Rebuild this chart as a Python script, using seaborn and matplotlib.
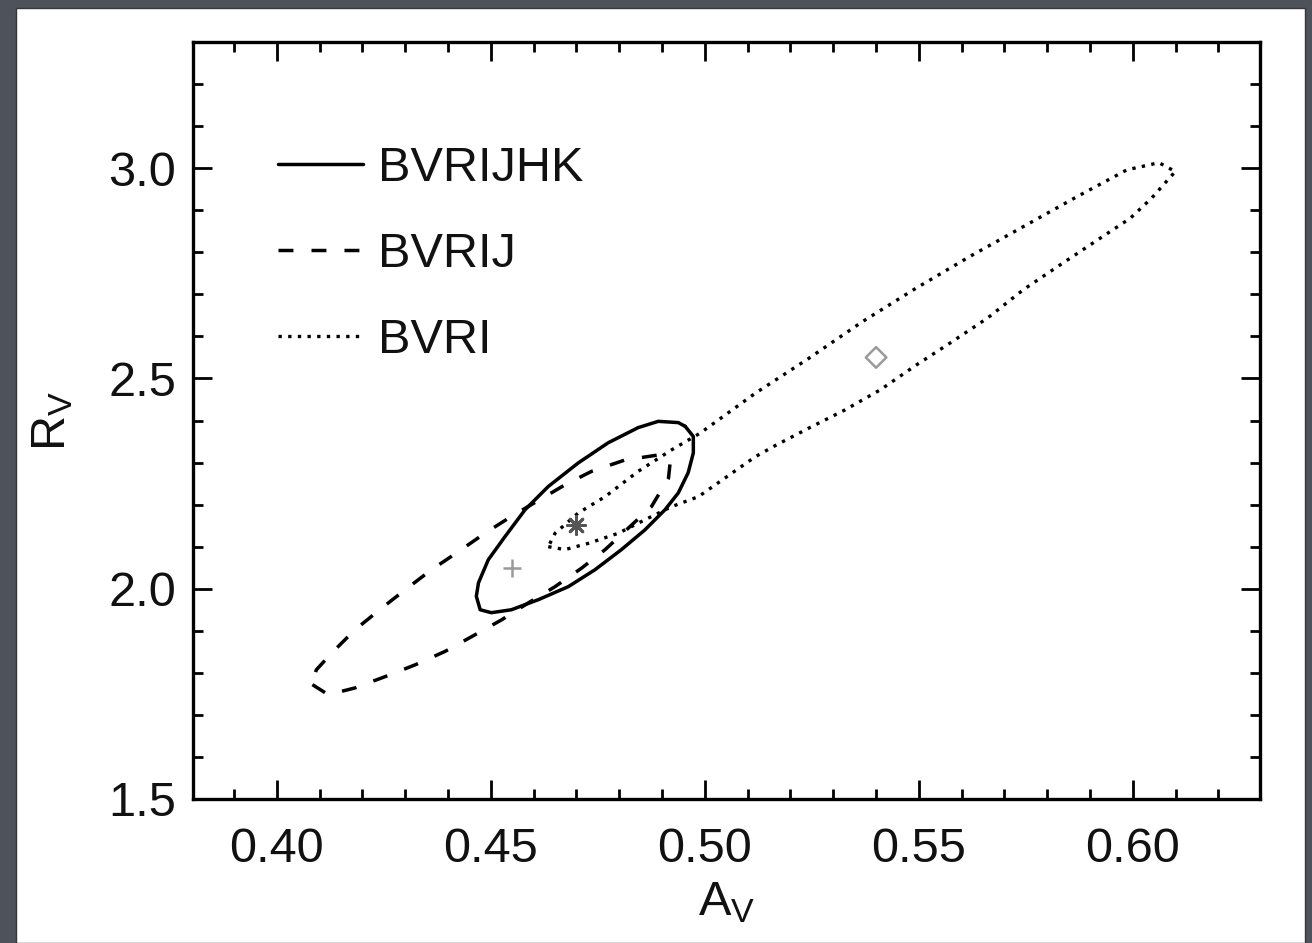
import numpy as np
import pandas as pd
import matplotlib
matplotlib.use("Agg")
import matplotlib.pyplot as plt
import seaborn as sns
from matplotlib.ticker import MultipleLocator, FormatStrFormatter
from matplotlib.patches import Rectangle

# ---- data (confidence contours in A_V / R_V plane) ----
bvrijhk_av = [0.4954, 0.4973, 0.4973, 0.4961, 0.4938, 0.4907, 0.4860, 0.4805, 0.4743,
              0.4681, 0.4611, 0.4548, 0.4501, 0.4475, 0.4466, 0.4471, 0.4494, 0.4533,
              0.4580, 0.4634, 0.4704, 0.4774, 0.4844, 0.4891, 0.4938]
bvrijhk_rv = [2.386, 2.362, 2.323, 2.276, 2.228, 2.188, 2.140, 2.093, 2.045,
              2.005, 1.974, 1.950, 1.943, 1.950, 1.982, 2.014, 2.069, 2.124,
              2.188, 2.243, 2.299, 2.347, 2.383, 2.398, 2.395]

bvrij_av = [0.4083, 0.4120, 0.4182, 0.4253, 0.4323, 0.4393, 0.4455, 0.4525, 0.4587,
            0.4650, 0.4712, 0.4767, 0.4821, 0.4875, 0.4915, 0.4919, 0.4891, 0.4813,
            0.4735, 0.4673, 0.4548, 0.4486, 0.4424, 0.4361, 0.4299, 0.4245, 0.4182,
            0.4128, 0.4092]
bvrij_rv = [1.772, 1.748, 1.764, 1.791, 1.819, 1.851, 1.886, 1.926, 1.966,
            2.005, 2.049, 2.093, 2.144, 2.195, 2.263, 2.302, 2.318, 2.306,
            2.279, 2.247, 2.172, 2.132, 2.088, 2.045, 1.997, 1.954, 1.902,
            1.847, 1.807]

bvri_av = [0.4634, 0.4673, 0.4728, 0.4798, 0.4860, 0.4922, 0.4985, 0.5118, 0.5160,
           0.5243, 0.5327, 0.5410, 0.5494, 0.5577, 0.5661, 0.5744, 0.5827, 0.5911,
           0.5994, 0.6044, 0.6078, 0.6099, 0.6061, 0.5986, 0.5869, 0.5744, 0.5619,
           0.5494, 0.5368, 0.5243, 0.5118, 0.4989, 0.4922, 0.4844, 0.4767, 0.4704,
           0.4650]
bvri_rv = [2.100, 2.093, 2.108, 2.132, 2.164, 2.195, 2.219, 2.314, 2.338,
           2.382, 2.425, 2.473, 2.532, 2.587, 2.644, 2.711, 2.768, 2.825,
           2.881, 2.929, 2.968, 2.992, 3.013, 2.996, 2.932, 2.861, 2.790,
           2.715, 2.635, 2.548, 2.465, 2.370, 2.330, 2.279, 2.219, 2.180,
           2.132]

# best-fit points
diamond_av, diamond_rv = [0.540], [2.55]
star_av, star_rv = [0.470], [2.152]
plus_av, plus_rv = [0.455], [2.049]

series_labels = ["BVRIJHK", "BVRIJ", "BVRI"]
x_ticks = [0.40, 0.45, 0.50, 0.55, 0.60]
y_ticks = [1.5, 2.0, 2.5, 3.0]

# ---- style ----
sns.set_style("ticks")
plt.rcParams["font.family"] = ["Liberation Sans", "DejaVu Sans"]
plt.rcParams["mathtext.fontset"] = "custom"
plt.rcParams["mathtext.rm"] = "Liberation Sans"
plt.rcParams["mathtext.it"] = "Liberation Sans:italic"

FS = 35
W, H = 1312, 943
fig = plt.figure(figsize=(W / 100, H / 100), dpi=100, facecolor="#4e525b")
fig.patches.append(Rectangle((16 / W, 0), (1305 - 16) / W, (H - 8) / H,
                             transform=fig.transFigure, facecolor="white",
                             edgecolor="#33363c", lw=1.0, zorder=-5))

ax = fig.add_axes([193 / W, (H - 799) / H, (1260 - 193) / W, (799 - 42) / H])
ax.set_facecolor("white")
ax.set_zorder(2)


def closed(v):
    return list(v) + [v[0]]


styles = ["-", (0, (4.3, 5.2)), (0, (1.0, 1.9))]
widths = [2.5, 2.5, 2.4]
contours = [(bvrijhk_av, bvrijhk_rv), (bvrij_av, bvrij_rv), (bvri_av, bvri_rv)]
for (cx, cy), lab, ls, lw in zip(contours, series_labels, styles, widths):
    df = pd.DataFrame({"A_V": closed(cx), "R_V": closed(cy)})
    sns.lineplot(data=df, x="A_V", y="R_V", sort=False, estimator=None,
                 color="black", linewidth=lw, linestyle=ls, label=lab, ax=ax)

sns.scatterplot(x=diamond_av, y=diamond_rv, marker="D", s=110, facecolor="none",
                edgecolor="#9a9a9a", linewidth=1.8, ax=ax, zorder=5)
sns.scatterplot(x=star_av, y=star_rv, marker=(8, 2, 0), s=170, color="#555555",
                linewidth=2.0, ax=ax, zorder=5)
sns.scatterplot(x=plus_av, y=plus_rv, marker="+", s=170, color="#9a9a9a",
                linewidth=1.8, ax=ax, zorder=5)

ax.set_xlim(0.3804, 0.6297)
ax.set_ylim(1.5, 3.3)
ax.set_xticks(x_ticks)
ax.set_yticks(y_ticks)
ax.xaxis.set_minor_locator(MultipleLocator(0.01))
ax.yaxis.set_minor_locator(MultipleLocator(0.1))
ax.xaxis.set_major_formatter(FormatStrFormatter("%.2f"))
ax.yaxis.set_major_formatter(FormatStrFormatter("%.1f"))

for s in ax.spines.values():
    s.set_visible(True)
    s.set_linewidth(2.4)
    s.set_color("black")

ax.tick_params(which="both", direction="in", top=True, right=True,
               width=2.0, color="black", labelsize=FS, labelcolor="#111111")
ax.tick_params(which="major", length=14)
ax.tick_params(which="minor", length=7)
ax.tick_params(axis="x", which="major", pad=20)
ax.tick_params(axis="y", which="major", pad=12)

ax.set_xlabel(r"A$_{\mathrm{V}}$", fontsize=FS, labelpad=6, color="#111111")
ax.set_ylabel(r"R$_{\mathrm{V}}$", fontsize=FS, labelpad=24, color="#111111")

leg = ax.legend(loc="upper left", bbox_to_anchor=(0.0797, 0.863), frameon=False,
                fontsize=FS, handlelength=1.75, handletextpad=0.31,
                labelspacing=0.85, borderpad=0.0, borderaxespad=0.0)
for t in leg.get_texts():
    t.set_color("#111111")

fig.savefig("out.png", dpi=100, facecolor=fig.get_facecolor())
